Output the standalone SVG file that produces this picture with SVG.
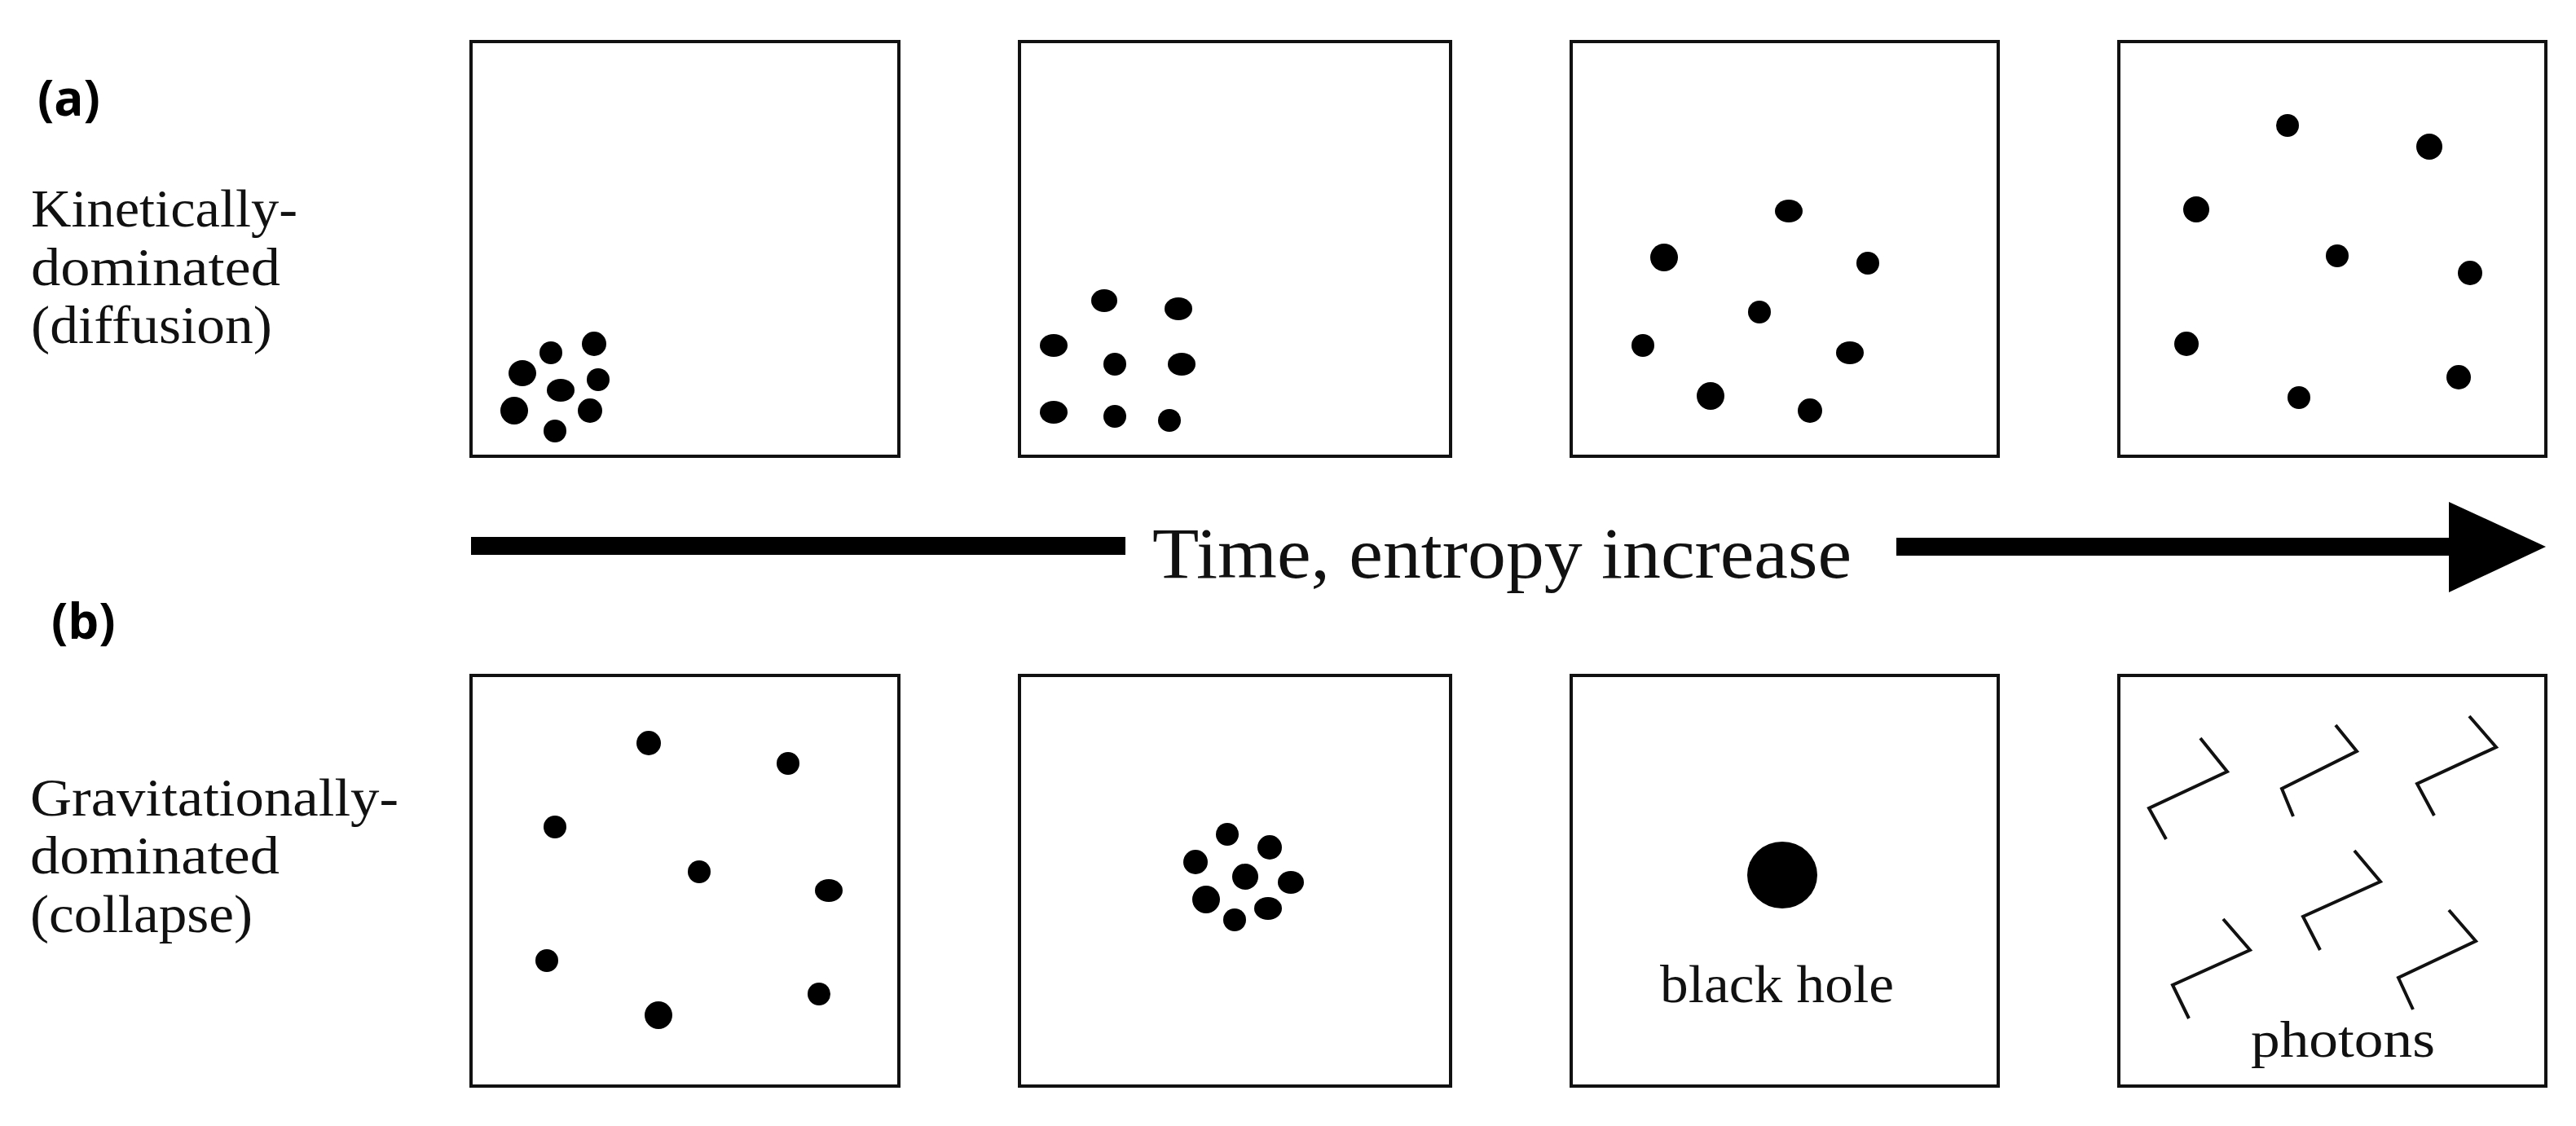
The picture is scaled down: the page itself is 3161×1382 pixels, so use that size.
<svg xmlns="http://www.w3.org/2000/svg" width="3161" height="1382" viewBox="0 0 3161 1382">
<style>
.box{fill:#fff;stroke:#111;stroke-width:4}
.d{fill:#000}
.lbl{font-family:"Liberation Serif","Times New Roman",serif;font-size:66px;fill:#111}
.tag{font-family:"Open Sans","Liberation Sans",sans-serif;font-weight:bold;font-size:60px;fill:#000}
.ph{fill:none;stroke:#111;stroke-width:4;stroke-linejoin:miter;stroke-linecap:butt}
</style>
<rect x="0" y="0" width="3161" height="1382" fill="#fff"/>

<g id="labels">
  <text class="tag" x="46" y="142">(a)</text>
  <text class="lbl" x="38" y="278" textLength="327" lengthAdjust="spacingAndGlyphs">Kinetically-</text>
  <text class="lbl" x="38" y="350" textLength="306" lengthAdjust="spacingAndGlyphs">dominated</text>
  <text class="lbl" x="38" y="421" textLength="296" lengthAdjust="spacingAndGlyphs">(diffusion)</text>
  <text class="tag" x="63" y="784">(b)</text>
  <text class="lbl" x="37" y="1001" textLength="452" lengthAdjust="spacingAndGlyphs">Gravitationally-</text>
  <text class="lbl" x="37" y="1072" textLength="306" lengthAdjust="spacingAndGlyphs">dominated</text>
  <text class="lbl" x="37" y="1144" textLength="273" lengthAdjust="spacingAndGlyphs">(collapse)</text>
</g>

<g id="a1">
  <rect class="box" x="578" y="51" width="525" height="509"/>
  <ellipse class="d" cx="641" cy="458" rx="17" ry="16"/>
  <circle class="d" cx="676" cy="433" r="14"/>
  <circle class="d" cx="729" cy="422" r="15"/>
  <circle class="d" cx="734" cy="466" r="14"/>
  <ellipse class="d" cx="688" cy="479" rx="17" ry="14"/>
  <circle class="d" cx="631" cy="504" r="17"/>
  <circle class="d" cx="724" cy="504" r="15"/>
  <circle class="d" cx="681" cy="529" r="14"/>
</g>

<g id="a2">
  <rect class="box" x="1251" y="51" width="529" height="509"/>
  <ellipse class="d" cx="1355" cy="369" rx="16" ry="14"/>
  <ellipse class="d" cx="1446" cy="379" rx="17" ry="14"/>
  <ellipse class="d" cx="1293" cy="424" rx="17" ry="14"/>
  <circle class="d" cx="1368" cy="447" r="14"/>
  <ellipse class="d" cx="1450" cy="447" rx="17" ry="14"/>
  <ellipse class="d" cx="1293" cy="506" rx="17" ry="14"/>
  <circle class="d" cx="1368" cy="511" r="14"/>
  <circle class="d" cx="1435" cy="516" r="14"/>
</g>

<g id="a3">
  <rect class="box" x="1928" y="51" width="524" height="509"/>
  <ellipse class="d" cx="2195" cy="259" rx="17" ry="14"/>
  <circle class="d" cx="2042" cy="316" r="17"/>
  <circle class="d" cx="2292" cy="323" r="14"/>
  <circle class="d" cx="2159" cy="383" r="14"/>
  <circle class="d" cx="2016" cy="424" r="14"/>
  <ellipse class="d" cx="2270" cy="433" rx="17" ry="14"/>
  <circle class="d" cx="2099" cy="486" r="17"/>
  <circle class="d" cx="2221" cy="504" r="15"/>
</g>

<g id="a4">
  <rect class="box" x="2600" y="51" width="524" height="509"/>
  <circle class="d" cx="2807" cy="154" r="14"/>
  <circle class="d" cx="2981" cy="180" r="16"/>
  <circle class="d" cx="2695" cy="257" r="16"/>
  <circle class="d" cx="2868" cy="314" r="14"/>
  <circle class="d" cx="3031" cy="335" r="15"/>
  <circle class="d" cx="2683" cy="422" r="15"/>
  <circle class="d" cx="2821" cy="488" r="14"/>
  <circle class="d" cx="3017" cy="463" r="15"/>
</g>

<g id="connectors">
  <rect x="578" y="659" width="803" height="22" fill="#000"/>
  <rect x="2327" y="660" width="690" height="22" fill="#000"/>
  <polygon points="3005,616 3124,671 3005,727" fill="#000"/>
  <text class="lbl" x="1414" y="709" style="font-size:88px" textLength="858" lengthAdjust="spacingAndGlyphs">Time, entropy increase</text>
</g>

<g id="b1">
  <rect class="box" x="578" y="829" width="525" height="504"/>
  <circle class="d" cx="796" cy="912" r="15"/>
  <circle class="d" cx="967" cy="937" r="14"/>
  <circle class="d" cx="681" cy="1015" r="14"/>
  <circle class="d" cx="858" cy="1070" r="14"/>
  <ellipse class="d" cx="1017" cy="1093" rx="17" ry="14"/>
  <circle class="d" cx="671" cy="1179" r="14"/>
  <circle class="d" cx="808" cy="1246" r="17"/>
  <circle class="d" cx="1005" cy="1220" r="14"/>
</g>

<g id="b2">
  <rect class="box" x="1251" y="829" width="529" height="504"/>
  <circle class="d" cx="1506" cy="1024" r="14"/>
  <circle class="d" cx="1558" cy="1040" r="15"/>
  <circle class="d" cx="1467" cy="1058" r="15"/>
  <circle class="d" cx="1528" cy="1076" r="16"/>
  <ellipse class="d" cx="1584" cy="1083" rx="16" ry="14"/>
  <circle class="d" cx="1480" cy="1104" r="17"/>
  <ellipse class="d" cx="1556" cy="1115" rx="17" ry="14"/>
  <circle class="d" cx="1515" cy="1129" r="14"/>
</g>

<g id="b3">
  <rect class="box" x="1928" y="829" width="524" height="504"/>
  <ellipse class="d" cx="2187" cy="1074" rx="43" ry="41"/>
  <text class="lbl" x="2037" y="1230" textLength="287" lengthAdjust="spacingAndGlyphs">black hole</text>
</g>

<g id="b4">
  <rect class="box" x="2600" y="829" width="524" height="504"/>
  <polyline class="ph" points="2700,906 2733,947 2637,992 2658,1030"/>
  <polyline class="ph" points="2866,890 2892,922 2800,968 2814,1002"/>
  <polyline class="ph" points="3030,879 3063,917 2966,962 2987,1001"/>
  <polyline class="ph" points="2889,1044 2921,1082 2826,1125 2847,1166"/>
  <polyline class="ph" points="2728,1128 2761,1166 2666,1209 2686,1250"/>
  <polyline class="ph" points="3005,1117 3038,1155 2943,1200 2961,1239"/>
  <text class="lbl" x="2762" y="1297" style="font-size:64px" textLength="226" lengthAdjust="spacingAndGlyphs">photons</text>
</g>
</svg>
